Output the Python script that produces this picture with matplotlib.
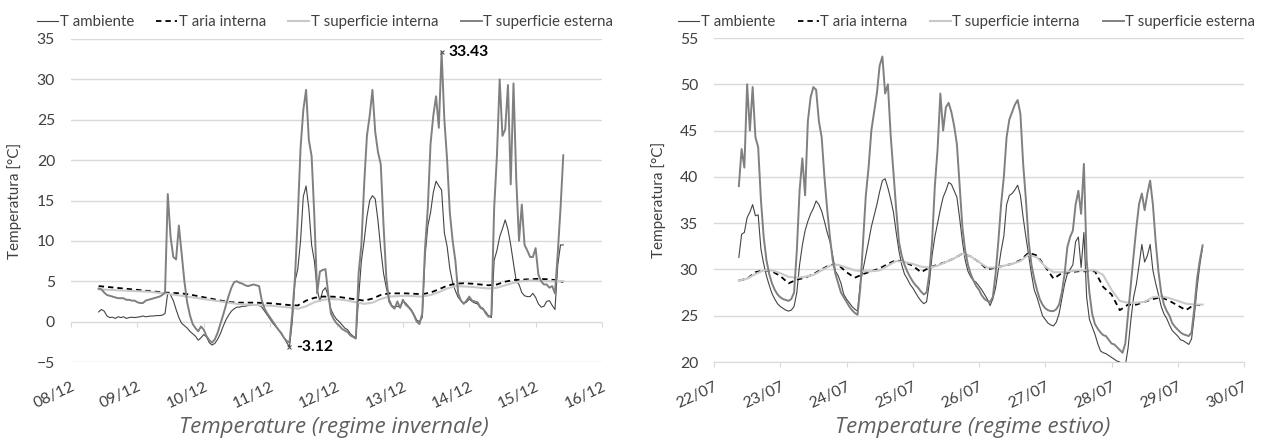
import numpy as np
import matplotlib
matplotlib.use("Agg")
import matplotlib.pyplot as plt

plt.rcParams['font.family'] = ['Lato', 'DejaVu Sans']

# ---------------- data ----------------
series_names = ["T ambiente", "T aria interna", "T superficie interna", "T superficie esterna"]

# Winter week (08/12 - 16/12): hourly readings, hours counted from 08/12 00:00
winter_first_hour = 10
winter_ambiente = [
    1.2, 1.5, 1.3, 0.7, 0.5, 0.55, 0.4, 0.6, 0.5, 0.6,
    0.4, 0.5, 0.55, 0.5, 0.55, 0.6, 0.7, 0.6, 0.65, 0.7,
    0.7, 0.75, 0.75, 0.8, 1.0, 3.6, 3.3, 2.6, 1.5, 0.5,
    -0.2, -0.5, -0.8, -1.2, -1.5, -1.8, -2.3, -2.0, -1.6, -1.9,
    -2.6, -2.9, -2.7, -2.2, -1.5, -0.6, 0.2, 0.8, 1.3, 1.6,
    1.8, 1.8, 1.9, 1.9, 2.0, 2.0, 2.1, 2.1, 2.0, 1.8,
    1.3, 0.8, 0.3, -0.2, -0.6, -1.0, -1.5, -2.0, -2.6, -3.12,
    0.0, 5.0, 6.5, 10.0, 15.5, 16.8, 14.0, 9.5, 7.5, 4.0,
    2.5, 3.8, 4.2, 3.2, 1.5, 0.8, 0.3, 0.0, -0.4, -0.8,
    -1.0, -1.5, -1.8, -2.0, 3.0, 7.5, 10.0, 13.0, 15.0, 15.6,
    15.2, 12.5, 9.0, 6.0, 4.2, 2.8, 2.0, 1.8, 1.9, 1.8,
    2.5, 2.3, 1.9, 1.5, 0.9, 0.2, 0.0, 0.5, 8.0, 11.8,
    13.5, 16.0, 17.4, 16.8, 16.3, 11.0, 9.3, 6.5, 4.8, 3.8,
    3.0, 2.6, 2.3, 2.4, 2.8, 2.5, 2.3, 2.2, 1.7, 1.5,
    1.2, 0.7, 0.5, 7.6, 8.8, 10.5, 11.5, 12.6, 11.4, 9.5,
    7.2, 5.0, 4.6, 3.6, 3.2, 3.1, 3.1, 3.5, 3.0, 2.2,
    1.8, 1.9, 2.5, 2.6, 2.0, 1.5, 7.0, 9.5, 9.5,
]
winter_sup_esterna = [
    4.1, 4.0, 3.6, 3.3, 3.2, 3.1, 3.0, 2.9, 2.9, 2.9,
    2.7, 2.7, 2.6, 2.6, 2.4, 2.3, 2.3, 2.6, 2.7, 2.8,
    2.9, 3.0, 3.1, 3.3, 3.6, 15.8, 10.5, 8.0, 7.7, 11.9,
    8.5, 5.0, 2.4, 0.8, -0.3, -0.8, -1.2, -0.6, -1.0, -1.8,
    -2.3, -2.6, -2.2, -1.4, -0.3, 0.8, 2.0, 3.2, 4.2, 4.9,
    5.0, 4.8, 4.7, 4.5, 4.4, 4.5, 4.6, 4.5, 4.4, 2.6,
    1.6, 1.0, 0.5, 0.0, -0.5, -1.0, -1.4, -2.0, -2.4, -2.6,
    1.0, 5.5, 13.0, 21.5, 26.2, 28.7, 22.5, 20.5, 13.0, 3.5,
    6.2, 6.4, 6.5, 3.5, 1.0, 0.3, -0.2, -0.5, -0.9, -1.1,
    -1.3, -1.7, -1.9, -2.1, 6.0, 9.5, 17.0, 23.0, 25.5, 28.7,
    23.5, 21.0, 19.5, 12.0, 5.5, 2.5, 1.9, 1.6, 2.5, 1.7,
    2.7, 2.1, 1.8, 1.4, 0.8, 0.0, -0.3, 1.0, 9.0, 14.0,
    22.0, 25.5, 27.9, 24.0, 33.43, 25.0, 20.0, 13.4, 10.0, 7.5,
    3.5, 2.6, 2.2, 2.6, 3.1, 2.6, 2.5, 2.4, 1.8, 1.6,
    1.0, 0.6, 0.8, 14.0, 20.5, 30.0, 23.0, 23.8, 29.3, 17.0,
    29.5, 17.6, 10.0, 14.5, 9.5, 8.8, 8.0, 8.0, 9.1, 5.8,
    5.0, 4.6, 4.6, 4.2, 4.4, 3.5, 8.5, 14.0, 20.6,
]
# indoor series sampled every 3 hours
winter_indoor_step = 3
winter_aria_interna = [
    4.4, 4.3, 4.2, 4.1, 4.0, 3.9, 3.8, 3.7, 3.6, 3.55,
    3.5, 3.35, 3.15, 2.95, 2.75, 2.55, 2.4, 2.35, 2.35, 2.35,
    2.3, 2.25, 2.15, 2.05, 2.0, 2.6, 2.95, 3.1, 3.1, 3.05,
    2.9, 2.75, 2.6, 2.85, 3.3, 3.5, 3.5, 3.5, 3.45, 3.4,
    3.6, 4.0, 4.45, 4.7, 4.75, 4.7, 4.6, 4.5, 4.6, 4.95,
    5.15, 5.2, 5.25, 5.3, 5.25, 5.15, 4.9,
]
winter_sup_interna = [
    4.0, 3.95, 3.9, 3.85, 3.8, 3.75, 3.7, 3.6, 3.5, 3.35,
    3.2, 3.05, 2.9, 2.75, 2.6, 2.45, 2.3, 2.15, 2.1, 2.05,
    2.0, 1.95, 1.85, 1.75, 1.6, 1.9, 2.4, 2.7, 2.8, 2.75,
    2.6, 2.4, 2.2, 2.35, 2.8, 3.1, 3.15, 3.2, 3.15, 3.1,
    3.3, 3.65, 4.1, 4.4, 4.35, 4.3, 4.2, 4.1, 4.2, 4.5,
    4.8, 5.0, 5.1, 5.05, 5.0, 5.0, 5.0,
]

# Summer week (22/07 - 30/07): hourly readings, hours counted from 22/07 00:00
summer_first_hour = 9
summer_ambiente = [
    31.3, 33.8, 34.0, 35.6, 36.2, 37.0, 35.8, 35.9, 32.2, 30.6,
    29.3, 28.3, 27.4, 26.8, 26.3, 26.0, 25.8, 25.6, 25.5, 25.6,
    26.0, 27.5, 30.5, 32.6, 34.2, 35.2, 36.0, 36.6, 37.4, 37.0,
    36.3, 35.2, 34.0, 33.0, 31.5, 29.8, 29.3, 28.5, 27.3, 26.8,
    26.4, 26.0, 25.7, 25.5, 28.5, 30.0, 31.5, 33.0, 34.6, 35.8,
    37.0, 38.4, 39.6, 39.8, 38.8, 37.6, 36.2, 34.0, 32.0, 30.5,
    29.5, 29.0, 28.4, 28.0, 27.5, 27.0, 26.6, 26.3, 26.5, 28.5,
    31.5, 33.5, 35.0, 36.5, 37.8, 38.5, 39.4, 39.2, 38.5, 37.8,
    35.5, 33.0, 31.0, 29.8, 29.2, 28.8, 28.6, 28.2, 27.8, 27.3,
    26.8, 26.1, 26.8, 28.0, 30.0, 32.0, 33.6, 37.0, 38.0, 38.2,
    38.6, 39.1, 38.0, 35.6, 33.5, 31.5, 29.5, 27.8, 27.0, 26.0,
    25.0, 24.6, 24.2, 24.0, 23.9, 24.3, 25.2, 26.8, 28.4, 29.5,
    30.0, 30.5, 33.0, 33.5, 30.2, 34.0, 27.0, 24.6, 23.8, 23.0,
    22.0, 21.2, 21.0, 20.9, 20.7, 20.5, 20.3, 20.1, 20.0, 19.6,
    19.6, 21.5, 24.5, 27.0, 28.4, 30.5, 32.7, 30.8, 31.5, 32.7,
    29.9, 28.5, 27.3, 26.0, 25.2, 24.7, 24.0, 23.4, 23.1, 22.8,
    22.4, 22.3, 22.1, 21.9, 22.5, 25.0, 28.0, 30.5, 32.4,
]
summer_sup_esterna = [
    39.0, 43.0, 41.0, 50.0, 45.0, 49.7, 44.3, 43.2, 37.5, 33.5,
    31.0, 29.5, 28.5, 27.8, 27.3, 27.0, 26.8, 26.7, 26.6, 26.8,
    27.5, 32.0, 38.5, 42.0, 38.0, 46.0, 48.6, 49.7, 49.4, 46.0,
    44.3, 40.0, 36.5, 33.5, 31.0, 29.5, 28.5, 27.5, 27.0, 26.5,
    26.0, 25.6, 25.3, 25.1, 28.0, 33.0, 38.0, 41.0, 45.0, 47.0,
    49.0, 52.0, 53.0, 49.0, 50.0, 44.5, 40.5, 36.5, 33.0, 31.5,
    30.5, 29.8, 29.2, 28.7, 28.3, 28.0, 27.6, 27.3, 27.5, 29.5,
    33.0, 39.0, 43.0, 49.0, 45.0, 47.5, 48.0, 47.0, 45.5, 43.5,
    39.0, 34.5, 32.0, 30.5, 29.5, 28.8, 28.2, 27.8, 27.2, 26.8,
    26.6, 26.5, 27.0, 29.5, 33.0, 37.0, 40.0, 44.3, 46.2, 47.0,
    47.8, 48.3, 46.8, 41.4, 37.5, 33.0, 30.5, 29.0, 27.8, 26.8,
    26.2, 25.8, 25.6, 25.5, 25.5, 25.7, 26.2, 27.5, 29.5, 32.4,
    33.5, 34.2, 37.0, 38.5, 36.0, 41.4, 31.0, 27.5, 25.2, 24.1,
    23.6, 23.2, 22.9, 22.8, 22.4, 22.0, 21.9, 21.6, 21.3, 21.0,
    22.0, 25.2, 28.4, 31.5, 34.5, 37.1, 38.2, 36.4, 38.2, 39.6,
    37.0, 33.0, 29.8, 27.5, 26.2, 25.5, 25.0, 24.2, 23.8, 23.5,
    23.2, 23.0, 22.9, 22.8, 23.2, 25.8, 29.0, 31.0, 32.6,
]
summer_indoor_step = 3
summer_aria_interna = [
    28.8, 29.0, 29.7, 29.9, 29.8, 29.3, 28.5, 28.9, 29.1, 29.5,
    30.0, 30.5, 30.5, 29.7, 29.1, 29.5, 29.8, 30.1, 30.6, 31.0,
    30.8, 30.4, 29.7, 30.2, 30.5, 30.8, 31.2, 31.7, 31.4, 30.8,
    30.0, 30.2, 30.4, 30.6, 31.0, 31.8, 31.5, 30.3, 29.0, 29.6,
    29.7, 29.8, 29.8, 29.8, 28.1, 27.3, 25.6, 26.2, 26.2, 26.5,
    26.8, 27.0, 26.6, 26.1, 25.6, 26.2, 26.1,
]
summer_sup_interna = [
    28.8, 29.0, 29.5, 29.9, 29.9, 29.6, 29.2, 29.1, 29.2, 29.4,
    29.9, 30.4, 30.5, 30.2, 29.9, 29.8, 29.8, 29.9, 30.4, 30.9,
    30.8, 30.6, 30.3, 30.2, 30.4, 30.8, 31.2, 31.7, 31.4, 30.8,
    30.2, 30.2, 30.4, 30.6, 30.9, 31.6, 31.3, 30.3, 29.7, 29.7,
    29.8, 29.9, 29.9, 29.9, 29.4, 27.8, 26.6, 26.4, 26.4, 26.5,
    27.0, 27.1, 26.9, 26.6, 26.3, 26.2, 26.2,
]

winter_dates = ["08/12", "09/12", "10/12", "11/12", "12/12", "13/12", "14/12", "15/12", "16/12"]
summer_dates = ["22/07", "23/07", "24/07", "25/07", "26/07", "27/07", "28/07", "29/07", "30/07"]
winter_yticks = [-5, 0, 5, 10, 15, 20, 25, 30, 35]
summer_yticks = [20, 25, 30, 35, 40, 45, 50, 55]

# ---------------- styling ----------------
GRID = "#d9d9d9"
TXT = "#404040"
styles = {
    "T ambiente": dict(color="#454545", lw=0.8),
    "T aria interna": dict(color="black", lw=1.3, dashes=(3.0, 2.2)),
    "T superficie interna": dict(color="#c9c9c9", lw=1.5),
    "T superficie esterna": dict(color="#808080", lw=1.4),
}

W, H = 1266, 442
fig = plt.figure(figsize=(W / 100, H / 100), dpi=100)


def day_axis(first_hour, n, step=1):
    return (first_hour + step * np.arange(n)) / 24.0


def draw_panel(ax, first_hour, ambiente, esterna, step, aria, sup_int,
               dates, yticks, ylim, zero_axis):
    t_h = day_axis(first_hour, len(ambiente))
    t_s = day_axis(first_hour, len(aria), step)
    ax.plot(t_h, ambiente, label="T ambiente", **styles["T ambiente"])
    ax.plot(t_s, aria, label="T aria interna", **styles["T aria interna"])
    ax.plot(t_s, sup_int, label="T superficie interna", **styles["T superficie interna"])
    ax.plot(t_h, esterna, label="T superficie esterna", **styles["T superficie esterna"])

    ax.set_xlim(0, len(dates) - 1)
    ax.set_ylim(*ylim)
    ax.set_yticks(yticks)
    ax.set_xticks(range(len(dates)))
    ax.set_xticklabels(dates, rotation=25, ha="right", va="top", rotation_mode="anchor")
    ax.yaxis.grid(True, color=GRID, lw=1.0)
    ax.set_axisbelow(True)
    for s in ("top", "right", "left"):
        ax.spines[s].set_visible(False)
    ax.tick_params(axis="y", length=0, pad=11.5, labelsize=11.3, labelcolor=TXT)

    if zero_axis is None:
        ax.spines["bottom"].set_color(GRID)
        ax.tick_params(axis="x", length=3.6, color=GRID, pad=9.0,
                       labelsize=11.3, labelcolor=TXT)
    else:
        ax.spines["bottom"].set_visible(False)
        ax.tick_params(axis="x", length=0, pad=12.6, labelsize=11.3, labelcolor=TXT)
        frac = (zero_axis - ylim[0]) / (ylim[1] - ylim[0])
        sec = ax.secondary_xaxis(frac)
        sec.set_xticks(range(len(dates)))
        sec.tick_params(axis="x", length=3.6, color=GRID, labelbottom=False, labeltop=False)
        for sp in sec.spines.values():
            sp.set_visible(False)

    ax.set_ylabel("Temperatura [°C]", fontsize=11, color=TXT)
    ax.yaxis.label.set_va("center")
    return ax


# left panel: winter
ax1_px = (71, 602, 39, 362)      # left, right, top, bottom in pixels
ax1 = fig.add_axes([71 / W, 80 / H, 531 / W, 323 / H])
draw_panel(ax1, winter_first_hour, winter_ambiente, winter_sup_esterna,
           winter_indoor_step, winter_aria_interna, winter_sup_interna,
           winter_dates, winter_yticks, (-5, 35), zero_axis=0)
ax1.yaxis.set_label_coords(-(71 - 15) / 531, 0.5)

# extreme values of the winter week
t_w = day_axis(winter_first_hour, len(winter_ambiente))
i_max = int(np.argmax(winter_sup_esterna))
i_min = int(np.argmin(winter_ambiente))
for ti, vi in ((t_w[i_max], winter_sup_esterna[i_max]), (t_w[i_min], winter_ambiente[i_min])):
    ax1.plot([ti], [vi], marker="x", ms=3.5, mew=0.8, color="#595959", ls="none")
    ax1.annotate(f"{vi:.2f}", (ti, vi), xytext=(5, 0), textcoords="offset points",
                 ha="left", va="center", fontsize=11.3, fontweight="bold", color="black")

# right panel: summer
ax2_px = (714, 1244, 38, 362)
ax2 = fig.add_axes([714 / W, 80 / H, 530 / W, 324 / H])
draw_panel(ax2, summer_first_hour, summer_ambiente, summer_sup_esterna,
           summer_indoor_step, summer_aria_interna, summer_sup_interna,
           summer_dates, summer_yticks, (20, 55), zero_axis=None)
ax2.yaxis.set_label_coords(-(714 - 659) / 530, 0.5)


def place_legend(ax, box, x_left, x_right, y_mid, fs=10.8):
    """Legend row spanning x_left..x_right pixels, centred on y_mid (from top)."""
    l, r, t, b = box
    anchor = ((x_left - l) / (r - l), (b - y_mid) / (b - t))
    cs = 0.8
    for _ in range(4):
        leg = ax.legend(loc="center left", bbox_to_anchor=anchor, ncol=4, frameon=False,
                        fontsize=fs, handlelength=1.4, handletextpad=0.1,
                        columnspacing=cs, borderaxespad=0, borderpad=0,
                        labelcolor=TXT)
        fig.canvas.draw()
        width = leg.get_window_extent().width
        cs += (x_right - x_left - width) / 3 / (fs * 100 / 72)
    return leg


place_legend(ax1, ax1_px, 37, 613, 22)
place_legend(ax2, ax2_px, 678, 1255, 22)

# captions
cap_kw = dict(ha="center", va="center", fontsize=16, style="italic",
              color="#5f5f5f", family=["Open Sans", "DejaVu Sans"])
fig.text(334 / W, 1 - 428 / H, "Temperature (regime invernale)", **cap_kw)
fig.text(973 / W, 1 - 428 / H, "Temperature (regime estivo)", **cap_kw)

fig.savefig("out.png", dpi=100)
